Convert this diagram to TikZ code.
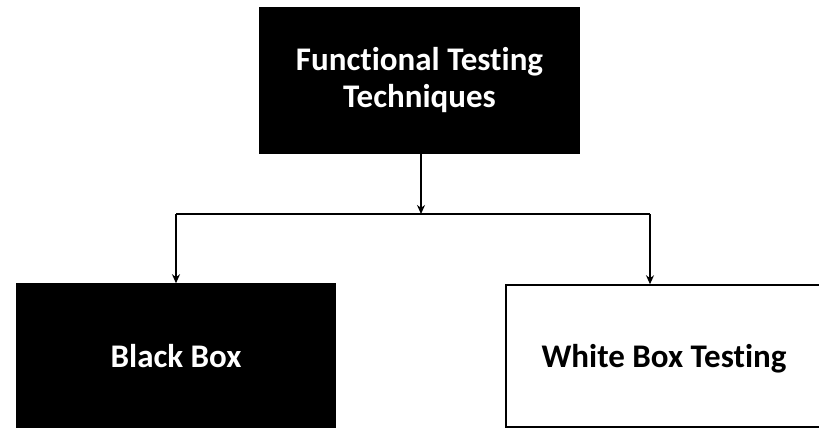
\documentclass[tikz,border=0pt]{standalone}
\usepackage{fontspec}
\setmainfont[Ligatures=NoCommon]{Carlito}
\usetikzlibrary{arrows.meta}
\begin{document}
\begin{tikzpicture}[x=1pt,y=-1pt,
  box/.style={draw=black, line width=1.5pt, inner sep=0pt, align=center,
    font=\fontsize{33}{37}\selectfont\bfseries},
  link/.style={line width=1.6pt},
  conn/.style={link, -{Stealth[length=9pt,width=8pt]}}]
\useasboundingbox (0,0) rectangle (819,428);
\clip (0,0) rectangle (819,428);
\node[box, fill=black, text=white, minimum width=319pt, minimum height=145pt] (top) at (419.5,80.5) {Functional Testing\\Techniques};
\node[box, fill=black, text=white, text depth=0pt, minimum width=318pt, minimum height=143pt] (lb) at (176,355.5) {Black Box};
\node[box, fill=white, text=black, text depth=0pt, minimum width=316pt, minimum height=142pt] (rb) at (664,356) {White Box Testing};
\coordinate (j) at (421,214);
\coordinate (jl) at (176,214);
\coordinate (jr) at (650,214);
\draw[conn] (j |- top.south) -- (j);
\draw[link] (jl) -- (jr);
\draw[conn] (jl) -- (jl |- lb.north);
\draw[conn] (jr) -- (jr |- rb.north);
\end{tikzpicture}
\end{document}
